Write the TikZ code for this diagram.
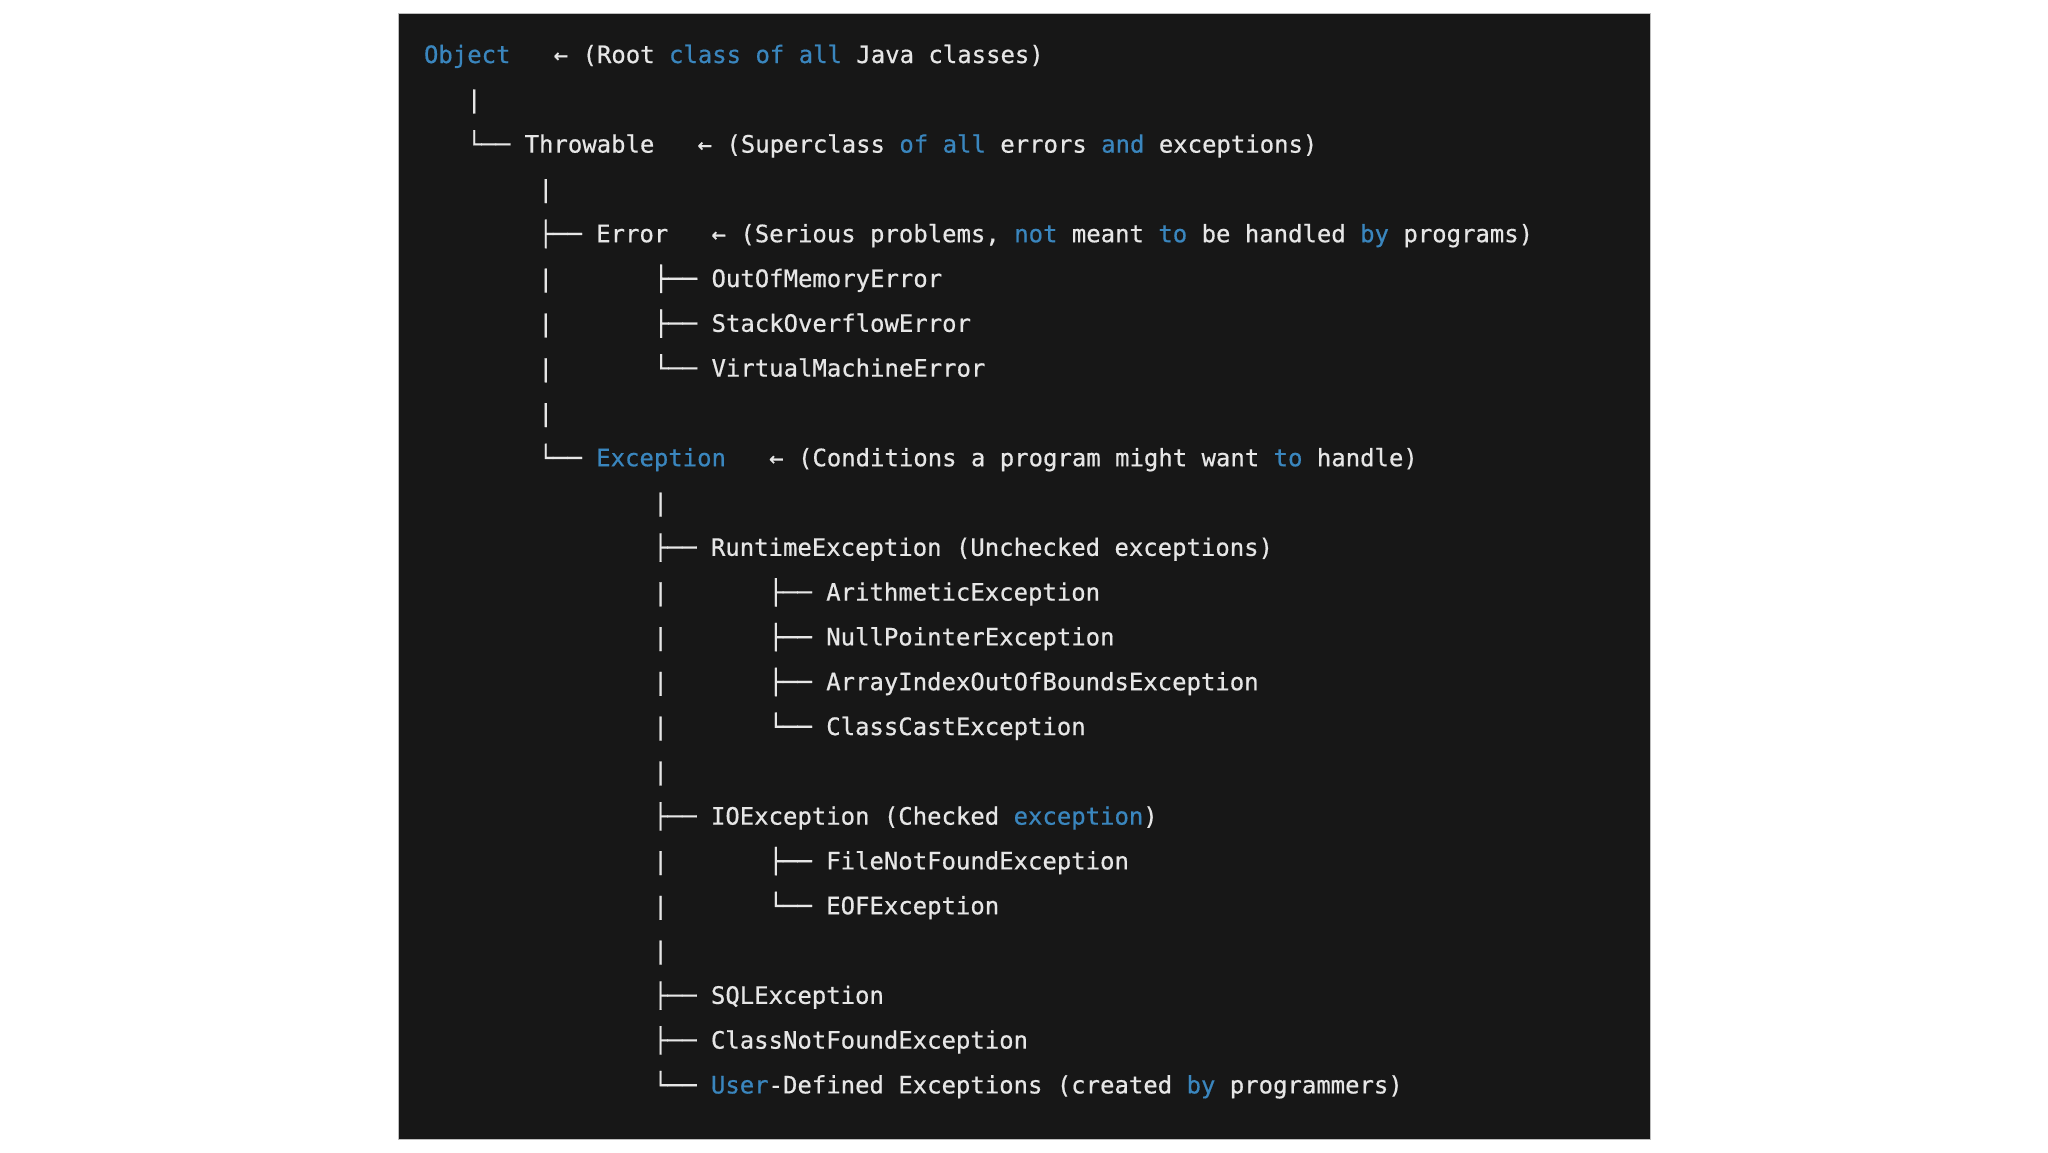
\documentclass[tikz,border=0pt]{standalone}
\usepackage{fontspec}
\newfontfamily\codefont[FakeBold=0.6]{DejaVu Sans Mono}
\definecolor{bgdark}{HTML}{171717}
\definecolor{codewhite}{HTML}{E6E6E6}
\definecolor{kwblue}{HTML}{3A86BE}
\definecolor{frameline}{HTML}{BDBDBD}
\newcommand\kw[1]{\textcolor{kwblue}{#1}}
\frenchspacing
\begin{document}
\begin{tikzpicture}[x=0.5pt,y=-0.5pt,
  code/.style={anchor=base west,inner sep=0pt,outer sep=0pt,text=codewhite,
    font=\codefont\fontsize{11.97pt}{14pt}\selectfont}]
\useasboundingbox (0,0) rectangle (2048,1152);
\fill[white] (0,0) rectangle (2048,1152);
\fill[bgdark,draw=frameline,line width=0.5pt] (398,13) rectangle (1650,1139);

\node[code] (l00) at (424,63)     {\kw{Object}~~~← (Root \kw{class} \kw{of} \kw{all} Java classes)};
\node[code] (l01) at (467,107.8)  {|};
\node[code] (l02) at (467,152.6)  {└── Throwable~~~← (Superclass \kw{of} \kw{all} errors \kw{and} exceptions)};
\node[code] (l03) at (538.6,197.4) {|};
\node[code] (l04) at (538.6,242.2) {├── Error~~~← (Serious problems, \kw{not} meant \kw{to} be handled \kw{by} programs)};
\node[code] (l05) at (538.6,287)   {|~~~~~~~├── OutOfMemoryError};
\node[code] (l06) at (538.6,331.8) {|~~~~~~~├── StackOverflowError};
\node[code] (l07) at (538.6,376.6) {|~~~~~~~└── VirtualMachineError};
\node[code] (l08) at (538.6,421.4) {|};
\node[code] (l09) at (538.6,466.2) {└── \kw{Exception}~~~← (Conditions a program might want \kw{to} handle)};
\node[code] (l10) at (653.3,511)   {|};
\node[code] (l11) at (653.3,555.8) {├── RuntimeException (Unchecked exceptions)};
\node[code] (l12) at (653.3,600.6) {|~~~~~~~├── ArithmeticException};
\node[code] (l13) at (653.3,645.4) {|~~~~~~~├── NullPointerException};
\node[code] (l14) at (653.3,690.2) {|~~~~~~~├── ArrayIndexOutOfBoundsException};
\node[code] (l15) at (653.3,735)   {|~~~~~~~└── ClassCastException};
\node[code] (l16) at (653.3,779.8) {|};
\node[code] (l17) at (653.3,824.6) {├── IOException (Checked \kw{exception})};
\node[code] (l18) at (653.3,869.4) {|~~~~~~~├── FileNotFoundException};
\node[code] (l19) at (653.3,914.2) {|~~~~~~~└── EOFException};
\node[code] (l20) at (653.3,959)   {|};
\node[code] (l21) at (653.3,1003.8) {├── SQLException};
\node[code] (l22) at (653.3,1048.6) {├── ClassNotFoundException};
\node[code] (l23) at (653.3,1093.4) {└── \kw{User}-Defined Exceptions (created \kw{by} programmers)};
\end{tikzpicture}
\end{document}
